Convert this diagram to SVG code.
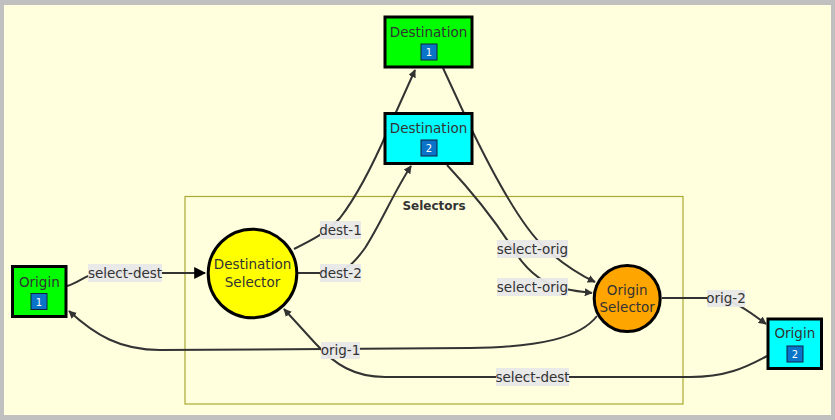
<svg xmlns="http://www.w3.org/2000/svg" width="835" height="420" viewBox="0 0 835 420">
<style>
.node rect.box{stroke:#000;stroke-width:3}
.node circle{stroke:#000;stroke-width:3}
.t{font-family:"DejaVu Sans",Verdana,sans-serif;font-size:13.5px;fill:#333;text-anchor:middle}
.badge{fill:#0a74c9;stroke:#102040;stroke-width:1}
.bt{font-family:"DejaVu Sans",Verdana,sans-serif;font-size:10px;fill:#fff;text-anchor:middle}
.e{fill:none;stroke:#333;stroke-width:2}
.lb{fill:#e8e8e8;opacity:0.95}
.lt{font-family:"DejaVu Sans",Verdana,sans-serif;font-size:13.5px;fill:#333;text-anchor:middle}
</style>
<defs>
<marker id="arr" viewBox="0 0 10 10" refX="9" refY="5" markerUnits="userSpaceOnUse" markerWidth="8" markerHeight="8" orient="auto"><path d="M0,0 L10,5 L0,10 z" fill="#333"/></marker>
<marker id="arrBig" viewBox="0 0 10 10" refX="9" refY="5" markerUnits="userSpaceOnUse" markerWidth="12" markerHeight="12" orient="auto"><path d="M0,0 L10,5 L0,10 z" fill="#000"/></marker>
</defs>
<rect x="0" y="0" width="835" height="420" fill="#c0c0c0"/>
<rect x="4" y="5" width="827" height="410" fill="#ffffde"/>
<g id="cluster-selectors">
<rect x="185" y="196.5" width="498" height="207.5" fill="#ffffde" stroke="#aaaa33" stroke-width="1.2"/>
<text x="434" y="210" style="font-family:'DejaVu Sans',Verdana,sans-serif;font-size:12px;font-weight:bold;fill:#333;text-anchor:middle">Selectors</text>
</g>
<g id="connectors">
<path class="e" d="M67,286 C80,282 88,273 100,273 L205,273" marker-end="url(#arrBig)"/>
<path class="e" d="M294,249 C312,240 328,232 340,218 C360,192 375,160 388,130 L415,70" marker-end="url(#arr)"/>
<path class="e" d="M298,273 L330,273 C345,273 355,262 365,248 C380,225 395,190 411,166" marker-end="url(#arr)"/>
<path class="e" d="M443,68 L468,122 C490,168 520,225 545,248 C565,266 580,275 595,282" marker-end="url(#arr)"/>
<path class="e" d="M447,165 C475,195 500,228 515,252 C528,272 545,285 565,289 C575,291 583,292 592,293" marker-end="url(#arr)"/>
<path class="e" d="M662,298 L715,298 C735,300 750,312 766,324" marker-end="url(#arr)"/>
<path class="e" d="M597,316 C580,338 540,347 470,348 L160,350 C120,350 95,335 69,311" marker-end="url(#arr)"/>
<path class="e" d="M767,356 C745,368 725,377 690,377 L385,377 C355,377 335,365 315,343 L284,309" marker-end="url(#arr)"/>
<rect class="lb" x="88" y="264" width="74" height="18"/><text class="lt" x="125" y="278">select-dest</text>
<rect class="lb" x="320" y="221" width="41" height="18"/><text class="lt" x="340.5" y="235">dest-1</text>
<rect class="lb" x="320" y="264" width="41" height="18"/><text class="lt" x="340.5" y="278">dest-2</text>
<rect class="lb" x="497" y="240" width="71" height="18"/><text class="lt" x="532.5" y="254">select-orig</text>
<rect class="lb" x="497" y="278" width="71" height="18"/><text class="lt" x="532.5" y="292">select-orig</text>
<rect class="lb" x="707" y="290" width="38" height="17"/><text class="lt" x="726" y="303">orig-2</text>
<rect class="lb" x="321" y="342" width="39" height="17"/><text class="lt" x="340.5" y="355">orig-1</text>
<rect class="lb" x="496" y="368" width="73" height="18"/><text class="lt" x="532.5" y="382">select-dest</text>
</g>
<g id="dest1" class="node">
<rect class="box" x="385" y="17" width="87" height="50" fill="#00ff00"/>
<text class="t" x="428.5" y="37">Destination</text>
<rect class="badge" x="421" y="44" width="16" height="16"/><text class="bt" x="429" y="56">1</text>
</g>
<g id="dest2" class="node">
<rect class="box" x="385" y="113.5" width="87" height="50" fill="#00ffff"/>
<text class="t" x="428.5" y="133">Destination</text>
<rect class="badge" x="421" y="140" width="16" height="16"/><text class="bt" x="429" y="152">2</text>
</g>
<g id="origin1" class="node">
<rect class="box" x="12.5" y="266.5" width="53.5" height="50" fill="#00ff00"/>
<text class="t" x="39.3" y="287">Origin</text>
<rect class="badge" x="31" y="293.5" width="16" height="16"/><text class="bt" x="39" y="305.5">1</text>
</g>
<g id="origin2" class="node">
<rect class="box" x="768" y="319" width="53.5" height="49.5" fill="#00ffff"/>
<text class="t" x="794.8" y="338">Origin</text>
<rect class="badge" x="787" y="346" width="16" height="16"/><text class="bt" x="795" y="358">2</text>
</g>
<g id="destSelector" class="node">
<circle cx="252.5" cy="273.5" r="44.3" fill="#ffff00"/>
<text class="t" x="252.5" y="269">Destination</text>
<text class="t" x="252.5" y="287">Selector</text>
</g>
<g id="originSelector" class="node">
<circle cx="627.2" cy="298.5" r="33" fill="#ffa500"/>
<text class="t" x="627.2" y="295">Origin</text>
<text class="t" x="627.2" y="312">Selector</text>
</g>
</svg>
